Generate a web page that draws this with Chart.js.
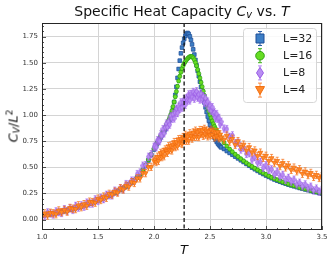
<!DOCTYPE html>
<html>
<head>
<meta charset="utf-8">
<script src="https://cdn.jsdelivr.net/npm/chart.js@4.4.1/dist/chart.umd.min.js"></script>
<style>
  body { margin: 0; background: #fff; }
  #wrap { position: relative; width: 333px; height: 263px; font-family: "DejaVu Sans", sans-serif; color: #111; }
  #chart { position: absolute; left: 0; top: 0; }
  .lbl { position: absolute; white-space: nowrap; line-height: 1; }
  #title { left: 42px; width: 280px; top: 4px; text-align: center; font-size: 14px; }
  #ylabel { left: 13px; top: 126px; font-size: 13px; transform: translate(-50%, -50%) rotate(-90deg); }
  #xlabel { left: 184px; top: 249px; font-size: 13px; transform: translate(-50%, -50%); }
  sub { font-size: 70%; vertical-align: -0.2em; line-height: 0; }
  sup { font-size: 70%; vertical-align: 0.5em; line-height: 0; }
</style>
</head>
<body>
<div id="wrap">
  <canvas id="chart" width="333" height="263"></canvas>
  <div class="lbl" id="title">Specific Heat Capacity <i>C<sub>v</sub></i> vs. <i>T</i></div>
  <div class="lbl" id="ylabel"><i>C<sub>V</sub></i>/<i>L</i><sup>2</sup></div>
  <div class="lbl" id="xlabel"><i>T</i></div>
</div>
<script>
// temperatures (finer sampling around Tc) and specific heat per site for each lattice size
var temps = [1.000,1.025,1.050,1.075,1.100,1.125,1.150,1.175,1.200,1.225,
  1.250,1.275,1.300,1.325,1.350,1.375,1.400,1.425,1.450,1.475,
  1.500,1.525,1.550,1.575,1.600,1.625,1.650,1.675,1.700,1.725,
  1.750,1.775,1.800,1.825,1.850,1.875,1.900,1.925,1.950,1.975,
  2.000,
  2.01,2.02,2.03,2.04,2.05,2.06,2.07,2.08,2.09,2.10,
  2.11,2.12,2.13,2.14,2.15,2.16,2.17,2.18,2.19,2.20,
  2.21,2.22,2.23,2.24,2.25,2.26,2.27,2.28,2.29,2.30,
  2.31,2.32,2.33,2.34,2.35,2.36,2.37,2.38,2.39,2.40,
  2.41,2.42,2.43,2.44,2.45,2.46,2.47,2.48,2.49,2.50,
  2.51,2.52,2.53,2.54,2.55,2.56,2.57,2.58,2.59,2.60,
  2.625,2.650,2.675,2.700,2.725,2.750,2.775,2.800,2.825,2.850,
  2.875,2.900,2.925,2.950,2.975,3.000,3.025,3.050,3.075,3.100,
  3.125,3.150,3.175,3.200,3.225,3.250,3.275,3.300,3.325,3.350,
  3.375,3.400,3.425,3.450,3.475,3.500];

var cv32 = [0.040,0.044,0.048,0.053,0.058,0.063,0.069,0.075,0.081,0.088,
  0.095,0.102,0.110,0.118,0.126,0.135,0.144,0.153,0.163,0.173,
  0.184,0.195,0.206,0.218,0.230,0.243,0.256,0.270,0.285,0.300,
  0.317,0.335,0.354,0.376,0.402,0.432,0.470,0.515,0.565,0.617,
  0.670,
  0.690,0.710,0.730,0.749,0.768,0.787,0.806,0.824,0.843,0.862,
  0.882,0.904,0.928,0.953,0.982,1.020,1.068,1.125,1.192,1.270,
  1.355,1.440,1.520,1.590,1.645,1.690,1.728,1.758,1.778,1.785,
  1.775,1.752,1.718,1.675,1.628,1.578,1.527,1.475,1.423,1.371,
  1.319,1.268,1.218,1.168,1.120,1.073,1.028,0.985,0.944,0.906,
  0.871,0.839,0.810,0.784,0.762,0.743,0.727,0.713,0.701,0.690,
  0.675,0.655,0.637,0.620,0.602,0.585,0.567,0.550,0.532,0.515,
  0.497,0.481,0.465,0.450,0.435,0.421,0.408,0.395,0.383,0.372,
  0.362,0.352,0.343,0.334,0.326,0.318,0.310,0.302,0.295,0.288,
  0.281,0.274,0.267,0.261,0.254,0.248];

var cv16 = [0.041,0.043,0.049,0.052,0.059,0.062,0.070,0.074,0.082,0.087,
  0.096,0.101,0.111,0.117,0.127,0.134,0.145,0.152,0.164,0.172,
  0.185,0.194,0.207,0.217,0.231,0.242,0.257,0.269,0.286,0.299,
  0.318,0.334,0.356,0.377,0.405,0.436,0.476,0.522,0.572,0.624,
  0.677,
  0.697,0.717,0.737,0.757,0.778,0.798,0.818,0.838,0.858,0.879,
  0.901,0.925,0.950,0.976,1.005,1.040,1.080,1.125,1.175,1.225,
  1.275,1.325,1.370,1.410,1.444,1.472,1.494,1.512,1.527,1.540,
  1.550,1.557,1.560,1.557,1.547,1.528,1.502,1.470,1.434,1.395,
  1.354,1.312,1.270,1.228,1.187,1.147,1.108,1.071,1.036,1.003,
  0.972,0.943,0.916,0.891,0.868,0.847,0.828,0.810,0.793,0.777,
  0.735,0.703,0.674,0.648,0.624,0.602,0.581,0.561,0.542,0.524,
  0.507,0.491,0.475,0.460,0.445,0.431,0.416,0.403,0.391,0.380,
  0.369,0.359,0.349,0.340,0.331,0.323,0.315,0.307,0.300,0.293,
  0.286,0.279,0.272,0.266,0.260,0.254];

var cv8 = [0.050,0.036,0.068,0.058,0.048,0.078,0.071,0.063,0.099,0.082,
  0.107,0.092,0.130,0.114,0.136,0.123,0.162,0.153,0.153,0.193,
  0.178,0.207,0.196,0.236,0.232,0.231,0.276,0.264,0.299,0.290,
  0.339,0.335,0.372,0.372,0.435,0.450,0.515,0.520,0.600,0.625,
  0.695,
  0.706,0.692,0.758,0.754,0.750,0.815,0.800,0.865,0.825,0.880,
  0.917,0.884,0.936,0.908,0.990,0.964,1.008,0.967,1.021,1.060,
  1.019,1.078,1.057,1.121,1.070,1.121,1.152,1.098,1.159,1.140,
  1.197,1.139,1.201,1.173,1.220,1.156,1.207,1.227,1.166,1.195,
  1.148,1.205,1.153,1.179,1.115,1.161,1.112,1.128,1.064,1.090,
  1.040,1.075,1.015,1.025,0.970,1.009,0.963,0.972,0.911,0.935,
  0.870,0.865,0.790,0.805,0.730,0.735,0.670,0.687,0.628,0.635,
  0.573,0.597,0.544,0.551,0.495,0.520,0.476,0.480,0.430,0.456,
  0.410,0.427,0.380,0.398,0.362,0.381,0.336,0.352,0.318,0.336,
  0.301,0.314,0.278,0.296,0.267,0.282];

var cv4 = [0.035,0.059,0.038,0.065,0.060,0.051,0.087,0.071,0.091,0.076,
  0.111,0.104,0.100,0.136,0.118,0.147,0.132,0.171,0.167,0.161,
  0.200,0.187,0.220,0.208,0.246,0.239,0.266,0.258,0.299,0.288,
  0.324,0.315,0.358,0.350,0.394,0.394,0.445,0.444,0.502,0.504,
  0.562,
  0.574,0.550,0.601,0.561,0.602,0.637,0.597,0.646,0.606,0.670,
  0.654,0.638,0.701,0.665,0.708,0.661,0.713,0.741,0.693,0.740,
  0.702,0.768,0.735,0.771,0.723,0.789,0.754,0.810,0.755,0.796,
  0.755,0.825,0.799,0.774,0.833,0.791,0.850,0.793,0.836,0.789,
  0.856,0.818,0.855,0.801,0.867,0.812,0.852,0.796,0.841,0.805,
  0.858,0.811,0.843,0.786,0.833,0.795,0.836,0.778,0.814,0.785,
  0.765,0.803,0.746,0.773,0.715,0.750,0.696,0.717,0.661,0.693,
  0.644,0.661,0.608,0.640,0.590,0.610,0.560,0.588,0.544,0.561,
  0.512,0.541,0.499,0.519,0.475,0.497,0.462,0.481,0.438,0.460,
  0.426,0.446,0.408,0.427,0.398,0.413];

var names = ['L=32', 'L=16', 'L=8', 'L=4'];
var errs = [0.012, 0.015, 0.035, 0.035];   // error bar half height per series
var xTicks = [1.0, 1.5, 2.0, 2.5, 3.0, 3.5];
var yTicks = [0, 0.25, 0.5, 0.75, 1.0, 1.25, 1.5, 1.75];
var tc = 2.269;  // Onsager critical temperature

function pts(vals) {
  return vals.map(function (v, i) { return {x: temps[i], y: v}; });
}

function thinDiamond(w, h, fill, stroke) {
  var c = document.createElement('canvas');
  c.width = w; c.height = h;
  var g = c.getContext('2d');
  g.beginPath();
  g.moveTo(w / 2, 0.4); g.lineTo(w - 0.4, h / 2); g.lineTo(w / 2, h - 0.4); g.lineTo(0.4, h / 2);
  g.closePath();
  g.fillStyle = fill; g.fill();
  g.strokeStyle = stroke; g.lineWidth = 0.8; g.stroke();
  return c;
}

var styles = [
  {fill: '#3d7fc6', edge: '#1f4f98', err: '#2a5ea8', shape: 'rect'},
  {fill: '#66dd22', edge: '#2fa012', err: '#3cb018', shape: 'circle'},
  {fill: '#b88ef2', edge: '#9a5ce6', err: 'rgba(160,100,235,0.75)', shape: 'diamond'},
  {fill: '#ff8a2a', edge: '#f06a0c', err: 'rgba(245,110,20,0.8)', shape: 'triangle'}
];

var series = [cv32, cv16, cv8, cv4];
var datasets = series.map(function (vals, k) {
  var s = styles[k];
  var ds = {
    label: names[k],
    data: pts(vals),
    err: errs[k],
    errColor: s.err,
    backgroundColor: s.fill,
    borderColor: s.edge,
    borderWidth: 0.7,
    pointRadius: 2.2,
    pointHoverRadius: 2.2,
    order: 3 - k
  };
  if (s.shape === 'rect') { ds.pointStyle = 'rect'; ds.pointRadius = 2.6; }
  if (s.shape === 'circle') { ds.pointStyle = 'circle'; ds.pointRadius = 2.0; }
  if (s.shape === 'diamond') { ds.pointStyle = thinDiamond(5, 7, s.fill, s.edge); }
  if (s.shape === 'triangle') { ds.pointStyle = 'triangle'; ds.pointRadius = 2.8; ds.rotation = 180; }
  return ds;
});

var errorBars = {
  id: 'errorBars',
  beforeDatasetDraw: function (chart, args) {
    var ds = chart.data.datasets[args.index];
    var y = chart.scales.y, a = chart.chartArea, ctx = chart.ctx;
    ctx.save();
    ctx.beginPath(); ctx.rect(a.left, a.top, a.right - a.left, a.bottom - a.top); ctx.clip();
    ctx.strokeStyle = ds.errColor;
    ctx.lineWidth = 0.9;
    ctx.beginPath();
    args.meta.data.forEach(function (p, i) {
      var v = ds.data[i].y;
      var t = y.getPixelForValue(v + ds.err), b = y.getPixelForValue(v - ds.err);
      ctx.moveTo(p.x, t); ctx.lineTo(p.x, b);
      ctx.moveTo(p.x - 1.5, t); ctx.lineTo(p.x + 1.5, t);
      ctx.moveTo(p.x - 1.5, b); ctx.lineTo(p.x + 1.5, b);
    });
    ctx.stroke();
    ctx.restore();
  }
};

function legendMarker(ctx, k, x, y) {
  var s = styles[k];
  ctx.strokeStyle = s.err; ctx.lineWidth = 1;
  ctx.beginPath();
  ctx.moveTo(x, y - 7); ctx.lineTo(x, y + 7);
  ctx.moveTo(x - 2, y - 7); ctx.lineTo(x + 2, y - 7);
  ctx.moveTo(x - 2, y + 7); ctx.lineTo(x + 2, y + 7);
  ctx.stroke();
  ctx.fillStyle = s.fill; ctx.strokeStyle = s.edge;
  ctx.beginPath();
  if (s.shape === 'rect') ctx.rect(x - 4, y - 4.5, 8, 9);
  if (s.shape === 'circle') ctx.arc(x, y, 4.3, 0, Math.PI * 2);
  if (s.shape === 'diamond') { ctx.moveTo(x, y - 5.5); ctx.lineTo(x + 3.5, y); ctx.lineTo(x, y + 5.5); ctx.lineTo(x - 3.5, y); ctx.closePath(); }
  if (s.shape === 'triangle') { ctx.moveTo(x - 4.5, y - 3.5); ctx.lineTo(x + 4.5, y - 3.5); ctx.lineTo(x, y + 4.5); ctx.closePath(); }
  ctx.fill(); ctx.stroke();
}

var decor = {
  id: 'decor',
  afterDatasetsDraw: function (chart) {
    var a = chart.chartArea, xs = chart.scales.x, ys = chart.scales.y, ctx = chart.ctx;
    ctx.save();
    // critical temperature
    var xc = xs.getPixelForValue(tc);
    ctx.strokeStyle = '#111'; ctx.lineWidth = 1.3; ctx.setLineDash([4, 2.5]);
    ctx.beginPath(); ctx.moveTo(xc, a.top); ctx.lineTo(xc, a.bottom); ctx.stroke();
    ctx.setLineDash([]);

    // frame + inward ticks
    ctx.strokeStyle = '#262626'; ctx.lineWidth = 1;
    ctx.strokeRect(a.left + 0.5, a.top + 0.5, a.right - a.left - 1, a.bottom - a.top - 1);
    ctx.lineWidth = 0.8;
    ctx.beginPath();
    var i, px, py;
    for (i = 10; i <= 35; i++) {
      px = Math.round(xs.getPixelForValue(i / 10)) + 0.5;
      ctx.moveTo(px, a.bottom); ctx.lineTo(px, a.bottom - (i % 5 === 0 ? 4 : 2));
    }
    for (i = 0; i <= 37; i++) {
      py = Math.round(ys.getPixelForValue(i * 0.05)) + 0.5;
      ctx.moveTo(a.left, py); ctx.lineTo(a.left + (i % 5 === 0 ? 4 : 2), py);
    }
    ctx.stroke();

    // legend
    var bw = 73, bh = 74, bx = a.right - 6 - bw, by = a.top + 5;
    ctx.fillStyle = 'rgba(255,255,255,0.85)';
    ctx.strokeStyle = '#d6d6d6'; ctx.lineWidth = 1;
    ctx.beginPath();
    ctx.roundRect(bx + 0.5, by + 0.5, bw, bh, 3);
    ctx.fill(); ctx.stroke();
    ctx.font = '11px "DejaVu Sans"';
    ctx.textBaseline = 'middle';
    names.forEach(function (n, k) {
      var ly = by + 10.5 + k * 17.2;
      legendMarker(ctx, k, bx + 17, ly);
      ctx.fillStyle = '#222';
      ctx.fillText(n, bx + 40, ly + 0.5);
    });
    ctx.restore();
  }
};

Chart.defaults.font.family = '"DejaVu Sans", sans-serif';

new Chart(document.getElementById('chart').getContext('2d'), {
  type: 'scatter',
  data: {datasets: datasets},
  options: {
    responsive: false,
    animation: false,
    layout: {padding: {left: 0, right: 11, top: 23, bottom: 0}},
    plugins: {legend: {display: false}, tooltip: {enabled: false}, title: {display: false}},
    scales: {
      x: {
        min: 1.0, max: 3.5,
        afterBuildTicks: function (s) { s.ticks = xTicks.map(function (v) { return {value: v}; }); },
        afterFit: function (s) { s.height = 33; },
        ticks: {font: {size: 7}, color: '#333', padding: 3,
          callback: function (v) { return Number(v).toFixed(1); }},
        grid: {color: '#d4d4d4', lineWidth: 1, drawTicks: false},
        border: {display: false}
      },
      y: {
        min: -0.1, max: 1.88,
        afterBuildTicks: function (s) { s.ticks = yTicks.map(function (v) { return {value: v}; }); },
        afterFit: function (s) { s.width = 42; },
        ticks: {font: {size: 7}, color: '#333', padding: 4,
          callback: function (v) { return Number(v).toFixed(2); }},
        grid: {color: '#d4d4d4', lineWidth: 1, drawTicks: false},
        border: {display: false}
      }
    }
  },
  plugins: [errorBars, decor]
});
</script>
</body>
</html>
